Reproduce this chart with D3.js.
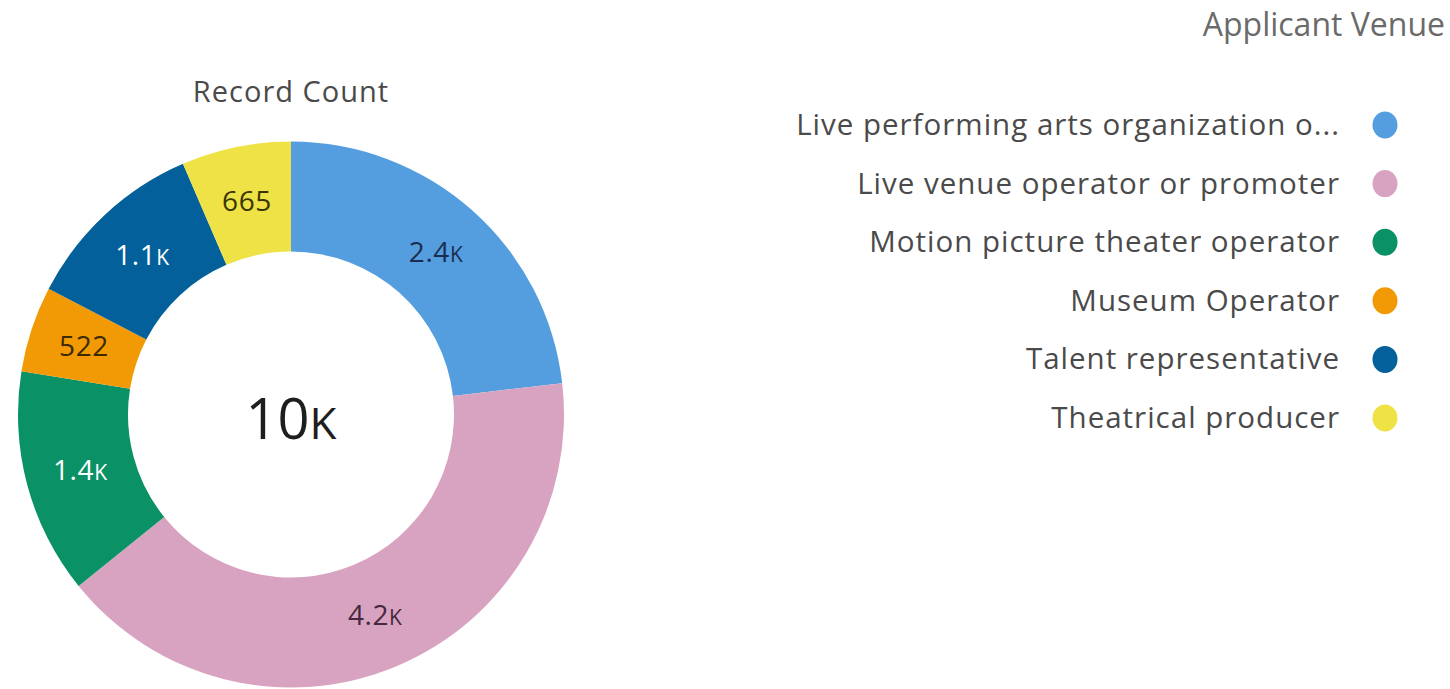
<!DOCTYPE html>
<html>
<head>
<meta charset="utf-8">
<script src="https://cdn.jsdelivr.net/npm/d3@7"></script>
<style>
  body { margin: 0; background: #fff; }
  svg { display: block; }
</style>
</head>
<body>
<svg id="chart"></svg>
<script>
// Record Count by Applicant Venue
const categories = [
  'Live performing arts organization operator',
  'Live venue operator or promoter',
  'Motion picture theater operator',
  'Museum Operator',
  'Talent representative',
  'Theatrical producer'
]
const legendLabels = [
  'Live performing arts organization o...',
  'Live venue operator or promoter',
  'Motion picture theater operator',
  'Museum Operator',
  'Talent representative',
  'Theatrical producer'
]
const counts = [2380, 4210, 1370, 522, 1120, 665]
const colors = ['#549ee0', '#d8a3c1', '#0a9166', '#f29a05', '#03609a', '#eee246']
const labelColors = ['#1b2d4f', '#45283f', '#ffffff', '#3b2a00', '#ffffff', '#3a3500']

const width = 1450, height = 689
const cx = 291, cy = 414.5
const outerR = 273, innerR = 163
const font = '"Open Sans", sans-serif'

let svg = d3.select('#chart')
  .attr('width', width)
  .attr('height', height)

let data = categories.map((c, i) => ({ name: c, value: counts[i], i: i }))

let pie = d3.pie().sort(null).value(d => d.value)
let arc = d3.arc().innerRadius(innerR).outerRadius(outerR)
let labelArc = d3.arc().innerRadius(218).outerRadius(218)

let color = d3.scaleOrdinal().domain(categories).range(colors)

// short number format like 2.4K
function shortNum(v) {
  if (v < 1000) return { num: String(v), suffix: '' }
  let s = d3.format('.2s')(v)
  return { num: s.slice(0, -1), suffix: 'K' }
}

let g = svg.append('g').attr('transform', `translate(${cx},${cy})`)
let arcs = pie(data)

g.selectAll('path')
  .data(arcs)
  .enter()
  .append('path')
  .attr('d', arc)
  .attr('fill', d => color(d.data.name))

let labels = g.selectAll('text.seg')
  .data(arcs)
  .enter()
  .append('text')
  .attr('class', 'seg')
  .attr('transform', d => `translate(${labelArc.centroid(d)})`)
  .attr('text-anchor', 'middle')
  .attr('dy', '0.35em')
  .attr('font-family', font)
  .attr('font-size', 28)
  .attr('letter-spacing', 0.6)
  .attr('fill', d => labelColors[d.data.i])

labels.each(function (d) {
  let t = shortNum(d.data.value)
  let el = d3.select(this)
  el.append('tspan').text(t.num)
  if (t.suffix) el.append('tspan').attr('font-size', 21).text(t.suffix)
})

// total in the hole
let total = d3.sum(counts)
let tt = shortNum(Math.round(total / 1000) * 1000)
let totalText = g.append('text')
  .attr('text-anchor', 'middle')
  .attr('y', 24)
  .attr('font-family', font)
  .attr('font-size', 56)
  .attr('fill', '#1e1e1e')
totalText.append('tspan').text(tt.num.replace('.0', ''))
totalText.append('tspan').attr('font-size', 44).text(tt.suffix)

svg.append('text')
  .attr('x', cx)
  .attr('y', 102)
  .attr('text-anchor', 'middle')
  .attr('font-family', font)
  .attr('font-size', 29)
  .attr('letter-spacing', 1)
  .attr('fill', '#4a4a4a')
  .text('Record Count')

svg.append('text')
  .attr('x', 1445)
  .attr('y', 36)
  .attr('text-anchor', 'end')
  .attr('font-family', font)
  .attr('font-size', 32)
  .attr('fill', '#6a6a6a')
  .text('Applicant Venue')

// legend
let legendY = d3.scalePoint().domain(categories).range([125, 418])

let legend = svg.append('g')
  .selectAll('g')
  .data(categories)
  .enter()
  .append('g')
  .attr('transform', d => `translate(0,${legendY(d)})`)

legend.append('ellipse')
  .attr('cx', 1385)
  .attr('cy', 0)
  .attr('rx', 12.5)
  .attr('ry', 13.5)
  .attr('fill', d => color(d))

legend.append('text')
  .attr('x', 1340)
  .attr('y', 10)
  .attr('text-anchor', 'end')
  .attr('font-family', font)
  .attr('font-size', 29.5)
  .attr('letter-spacing', 1)
  .attr('fill', '#4a4a4a')
  .text((d, i) => legendLabels[i])
</script>
</body>
</html>
